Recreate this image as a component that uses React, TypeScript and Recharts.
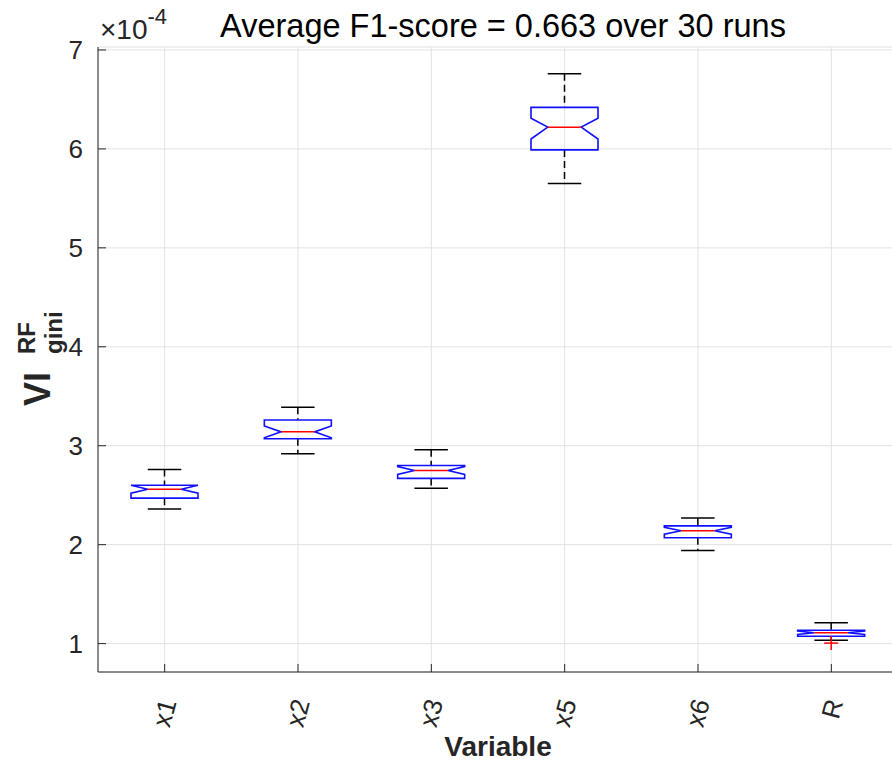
import { Bar, CartesianGrid, ComposedChart, XAxis, YAxis } from "recharts";

// values are in units of 1e-4
const categories = ["x1", "x2", "x3", "x5", "x6", "R"];
const whiskerLow = [2.36, 2.92, 2.57, 5.65, 1.94, 1.035];
const q1 = [2.47, 3.07, 2.67, 5.99, 2.07, 1.075];
const median = [2.56, 3.14, 2.75, 6.22, 2.14, 1.11];
const q3 = [2.6, 3.26, 2.8, 6.42, 2.19, 1.135];
const whiskerHigh = [2.76, 3.39, 2.96, 6.76, 2.27, 1.21];
const notchLow = [2.52, 3.08, 2.71, 6.1, 2.105, 1.093];
const notchHigh = [2.6, 3.2, 2.79, 6.31, 2.175, 1.127];
const outliers: number[][] = [[], [], [], [], [], [1.005]];
const yTicks = [1, 2, 3, 4, 5, 6, 7];

const data = categories.map((name, i) => ({
  name,
  range: [whiskerLow[i], whiskerHigh[i]],
  idx: i,
}));

const AXIS = "#262626";
const FONT = "'Liberation Sans', Arial, Helvetica, sans-serif";

function BoxShape(props: any) {
  const { x, y, width, height, payload } = props;
  const i = payload.idx;
  const top = Math.min(y, y + height);
  const bot = Math.max(y, y + height);
  const lo = whiskerLow[i];
  const hi = whiskerHigh[i];
  const py = (v: number) => bot - ((v - lo) / (hi - lo)) * (bot - top);
  const cx = x + width / 2;
  const l = x;
  const r = x + width;
  const inset = width / 4;
  const capHalf = width / 4;
  const yq1 = py(q1[i]);
  const yq3 = py(q3[i]);
  const ym = py(median[i]);
  const ynl = py(notchLow[i]);
  const ynh = py(notchHigh[i]);
  const pts = [
    [l, yq3],
    [r, yq3],
    [r, ynh],
    [r - inset, ym],
    [r, ynl],
    [r, yq1],
    [l, yq1],
    [l, ynl],
    [l + inset, ym],
    [l, ynh],
  ]
    .map((p) => p.join(","))
    .join(" ");
  return (
    <g>
      <line x1={cx} x2={cx} y1={top} y2={yq3} stroke="#000" strokeWidth={1.5} strokeDasharray="7 4" />
      <line x1={cx} x2={cx} y1={yq1} y2={bot} stroke="#000" strokeWidth={1.5} strokeDasharray="7 4" />
      <line x1={cx - capHalf} x2={cx + capHalf} y1={top} y2={top} stroke="#000" strokeWidth={1.5} />
      <line x1={cx - capHalf} x2={cx + capHalf} y1={bot} y2={bot} stroke="#000" strokeWidth={1.5} />
      <polygon points={pts} fill="none" stroke="#1010ff" strokeWidth={1.6} />
      <line x1={l + inset} x2={r - inset} y1={ym} y2={ym} stroke="#ff0000" strokeWidth={1.5} />
      {outliers[i].map((v, k) => (
        <g key={k}>
          <line x1={cx - 7} x2={cx + 7} y1={py(v)} y2={py(v)} stroke="#ff0000" strokeWidth={1.5} />
          <line x1={cx} x2={cx} y1={py(v) - 7} y2={py(v) + 7} stroke="#ff0000" strokeWidth={1.5} />
        </g>
      ))}
    </g>
  );
}

function YTick({ x, y, payload }: any) {
  const ax = x + 15;
  return (
    <g>
      <line x1={ax} x2={ax + 8} y1={y} y2={y} stroke={AXIS} strokeWidth={1} />
      <text x={x} y={y} textAnchor="end" dominantBaseline="central" fontSize={26} fill={AXIS} fontFamily={FONT}>
        {payload.value}
      </text>
    </g>
  );
}

function XTick({ x, y, payload }: any) {
  const ay = y - 18;
  const tx = x + 12;
  const ty = y + 12;
  return (
    <g>
      <line x1={x} x2={x} y1={ay} y2={ay - 8} stroke={AXIS} strokeWidth={1} />
      <text
        x={tx}
        y={ty}
        textAnchor="end"
        fontSize={26}
        fill={AXIS}
        fontFamily={FONT}
        transform={`rotate(-75, ${tx}, ${ty})`}
      >
        {payload.value}
      </text>
    </g>
  );
}

function TopTick({ x, y }: any) {
  return <line x1={x} x2={x} y1={y} y2={y + 8} stroke={AXIS} strokeWidth={1} />;
}

export default function App() {
  return (
    <div style={{ position: "fixed", left: 0, top: 0, width: 892, height: 764, overflow: "hidden", background: "#fff" }}>
      <ComposedChart
        width={900}
        height={764}
        data={data}
        margin={{ top: 47, right: 2, left: 0, bottom: 0 }}
      >
        <CartesianGrid stroke="#e2e2e2" strokeWidth={1} />
        <XAxis
          dataKey="name"
          height={92}
          stroke={AXIS}
          tickSize={0}
          tickMargin={18}
          tick={<XTick />}
          interval={0}
        />
        <XAxis
          xAxisId="top"
          dataKey="name"
          orientation="top"
          height={0}
          stroke={AXIS}
          tickSize={0}
          tickMargin={0}
          tick={<TopTick />}
          interval={0}
        />
        <YAxis
          type="number"
          domain={[0.713, 7.03]}
          ticks={yTicks}
          width={98}
          stroke={AXIS}
          tickSize={0}
          tickMargin={15}
          tick={<YTick />}
          allowDataOverflow
        />
        <Bar dataKey="range" barSize={67} shape={<BoxShape />} isAnimationActive={false} />
      </ComposedChart>
      <svg width={892} height={764} style={{ position: "absolute", left: 0, top: 0, pointerEvents: "none" }}>
        <text x={503} y={37} textAnchor="middle" fontSize={32.5} fill="#000" fontFamily={FONT}>
          Average F1-score = 0.663 over 30 runs
        </text>
        <text x={100} y={39} fontSize={28} fill={AXIS} fontFamily={FONT}>
          ×10
          <tspan dy={-15} fontSize={22}>
            -4
          </tspan>
        </text>
        <text x={498} y={756} textAnchor="middle" fontSize={28} fontWeight="bold" fill={AXIS} fontFamily={FONT}>
          Variable
        </text>
        <g transform="translate(50, 406) rotate(-90)" fontFamily={FONT} fontWeight="bold" fill={AXIS}>
          <text x={0} y={0} fontSize={36}>
            VI
          </text>
          <text x={52} y={-15} fontSize={24}>
            RF
          </text>
          <text x={52} y={12} fontSize={24}>
            gini
          </text>
        </g>
      </svg>
    </div>
  );
}
